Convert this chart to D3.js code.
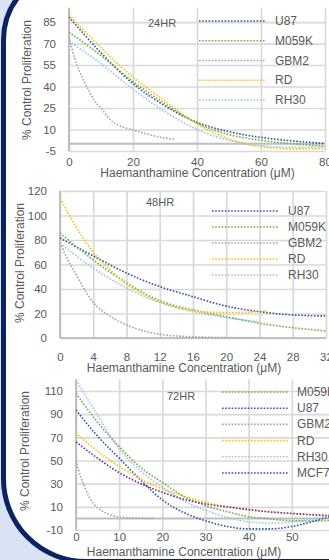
<!DOCTYPE html>
<html>
<head>
<meta charset="utf-8">
<script src="https://cdn.jsdelivr.net/npm/d3@7"></script>
<style>
  body { margin: 0; background: #dae3f3; }
  svg { display: block; font-family: "Liberation Sans", Arial, sans-serif; }
</style>
</head>
<body>
<svg id="chart" width="329" height="560"></svg>
<script>
// ---- data ----
// 24 hour panel
const x24Ticks = [0, 20, 40, 60, 80];
const y24Ticks = [-5, 10, 25, 40, 55, 70, 85];
const x24 = [0, 10, 20, 30, 40, 50, 60, 70, 80];
const u87_24 = [88.5, 63.5, 42, 26.5, 15, 8.5, 4.5, 2, 0.3];
const m059k_24 = [78, 61.5, 43.5, 28, 14.5, 6.5, 2.5, 0, -1.5];
const rd_24 = [90, 67, 46.5, 30, 14, 3.5, -2, -3.5, -3.3];
const rh30_24 = [71.5, 56, 38, 22.5, 10, 2.5, -1.3, -2.5, -2];
const gbm2X_24 = [0, 2, 4, 6, 8, 10, 13, 16, 20, 25, 30, 33];
const gbm2_24 = [75, 58, 47, 38, 30, 25, 16.5, 12.5, 9.6, 6.5, 4, 3.2];

// 48 hour panel
const x48Ticks = [0, 4, 8, 12, 16, 20, 24, 28, 32];
const y48Ticks = [0, 20, 40, 60, 80, 100, 120];
const x48 = [0, 4, 8, 12, 16, 20, 24, 28, 32];
const u87_48 = [81.6, 67, 53, 42, 33.7, 26, 21.5, 18.8, 18];
const m059k_48 = [85.7, 63.7, 45, 30.5, 22.9, 17.4, 12, 8.4, 5.7];
const rdX_48 = [0, 2, 4, 6, 8, 10, 12, 16, 20, 25];
const rd_48 = [114, 90, 70, 56, 44, 36, 29.5, 22.5, 20.7, 22];
const rh30X_48 = [0, 4, 8, 12, 16, 20, 24];
const rh30_48 = [77.5, 57, 40.8, 29, 21.5, 16.6, 13.3];
const gbm2X_48 = [0, 1, 2, 3, 4, 6, 8, 10, 12, 16, 20, 24];
const gbm2_48 = [78, 63, 51, 39, 29, 18, 10.6, 6, 3, 1, 0.3, 0];

// 72 hour panel
const x72Ticks = [0, 10, 20, 30, 40, 50, 60];
const y72Ticks = [-10, 10, 30, 50, 70, 90, 110];
const x72 = [0, 5, 10, 15, 20, 25, 30, 35, 40, 45, 50, 55, 60];
const m059k_72 = [108, 83, 62, 44, 31, 19, 11, 5.8, 1.5, -0.5, -2, -2.2, -1.5];
const u87_72 = [93.6, 71, 52, 33, 16, 5, -2, -7, -9, -9, -7, -2.5, 3];
const rd_72 = [73.7, 58, 45, 34, 25.5, 19, 14, 10, 8, 6, 4.3, 3.3, 2.7];
const rh30_72 = [119.5, 89, 60, 41, 27, 15, 7, 1, -3, -4, -3, -0.5, 3];
const mcf7_72 = [66, 52, 39.5, 30, 22.5, 16.5, 12.5, 10, 7.5, 5.5, 4.3, 3, 2.2];
const gbm2X_72 = [0, 1, 2, 3, 4, 6, 8, 10, 14, 18];
const gbm2_72 = [50, 37, 27, 19, 13, 6.5, 3, 1.2, 0.2, 0];

const colors = {
  U87: "#2f55a4", M059K: "#70ad47", GBM2: "#a5a5a5",
  RD: "#ffc000", RH30: "#9dc3e6", MCF7: "#7030a0"
};
const textColor = "#595959";

const panels = [
  {
    title: "24HR", xDomain: [0, 80], yDomain: [-5, 95], xTicks: x24Ticks, yTicks: y24Ticks,
    left: 69, right: 325, top: 7.7, bottom: 151,
    titlePos: [148, 27], xTitle: [197.5, 177], yTitle: [27, 80],
    legend: { x1: 199, x2: 266, tx: 275, y0: 21, dy: 19.75 },
    series: [
      { name: "U87", xs: x24, ys: u87_24 },
      { name: "M059K", xs: x24, ys: m059k_24 },
      { name: "GBM2", xs: gbm2X_24, ys: gbm2_24 },
      { name: "RD", xs: x24, ys: rd_24 },
      { name: "RH30", xs: x24, ys: rh30_24 }
    ]
  },
  {
    title: "48HR", xDomain: [0, 32], yDomain: [0, 120], xTicks: x48Ticks, yTicks: y48Ticks,
    left: 60, right: 326, top: 191, bottom: 338,
    titlePos: [146, 206], xTitle: [184, 372], yTitle: [20, 263],
    legend: { x1: 212, x2: 278, tx: 288, y0: 211, dy: 16 },
    series: [
      { name: "U87", xs: x48, ys: u87_48 },
      { name: "M059K", xs: x48, ys: m059k_48 },
      { name: "GBM2", xs: gbm2X_48, ys: gbm2_48 },
      { name: "RD", xs: rdX_48, ys: rd_48 },
      { name: "RH30", xs: rh30X_48, ys: rh30_48 }
    ]
  },
  {
    title: "72HR", xDomain: [0, 60], yDomain: [-10, 120], xTicks: x72Ticks, yTicks: y72Ticks,
    left: 76, right: 335, top: 379.4, bottom: 530,
    titlePos: [167, 400], xTitle: [184, 556], yTitle: [25, 451],
    legend: { x1: 222, x2: 288, tx: 297, y0: 392, dy: 16.2 },
    series: [
      { name: "M059K", xs: x72, ys: m059k_72 },
      { name: "U87", xs: x72, ys: u87_72 },
      { name: "GBM2", xs: gbm2X_72, ys: gbm2_72 },
      { name: "RD", xs: x72, ys: rd_72 },
      { name: "RH30", xs: x72, ys: rh30_72 },
      { name: "MCF7", xs: x72, ys: mcf7_72 }
    ]
  }
];

const svg = d3.select("#chart");

// backdrop: pale blue page, white card with a navy rounded edge on the left
svg.append("rect").attr("width", 329).attr("height", 560).attr("fill", "#dae3f3");
svg.append("path")
  .attr("d", "M400,-30 L73.5,-30 A70,70 0 0 0 3.5,40 L3.5,479 A82.5,82.5 0 0 0 86,561.5 L400,561.5 Z")
  .attr("fill", "#fff")
  .attr("stroke", "#0b2360")
  .attr("stroke-width", 5);

// plain hyphen for negatives, like the original
const fmt = d => String(d);

function drawPanel(p, i) {
  const x = d3.scaleLinear().domain(p.xDomain).range([p.left, p.right]);
  const y = d3.scaleLinear().domain(p.yDomain).range([p.bottom, p.top]);
  const g = svg.append("g");

  const clipId = "clip" + i;
  g.append("clipPath").attr("id", clipId)
    .append("rect")
    .attr("x", p.left).attr("y", p.top)
    .attr("width", p.right - p.left).attr("height", p.bottom - p.top);

  // gridlines
  const gridY = g.append("g")
    .attr("transform", "translate(" + p.left + ",0)")
    .call(d3.axisLeft(y).tickValues(p.yTicks).tickSize(-(p.right - p.left)).tickFormat(""));
  const gridX = g.append("g")
    .attr("transform", "translate(0," + p.bottom + ")")
    .call(d3.axisBottom(x).tickValues(p.xTicks).tickSize(p.bottom - p.top).tickFormat(""));
  gridX.selectAll(".tick line").attr("y2", -(p.bottom - p.top));
  [gridY, gridX].forEach(s => {
    s.select(".domain").remove();
    s.selectAll(".tick line").attr("stroke", "#d9d9d9").attr("stroke-width", 1.7);
  });

  // axis lines through zero
  g.append("line")
    .attr("x1", p.left).attr("x2", p.right)
    .attr("y1", y(0)).attr("y2", y(0))
    .attr("stroke", "#bfbfbf").attr("stroke-width", 2);
  g.append("line")
    .attr("x1", x(0)).attr("x2", x(0))
    .attr("y1", p.top).attr("y2", p.bottom)
    .attr("stroke", "#bfbfbf").attr("stroke-width", 2);

  // tick labels
  const yAx = g.append("g")
    .attr("transform", "translate(" + p.left + ",0)")
    .call(d3.axisLeft(y).tickValues(p.yTicks).tickFormat(fmt).tickSize(0).tickPadding(13));
  const xAx = g.append("g")
    .attr("transform", "translate(0," + y(0) + ")")
    .call(d3.axisBottom(x).tickValues(p.xTicks).tickFormat(fmt).tickSize(0).tickPadding(14.5));
  [yAx, xAx].forEach(s => {
    s.select(".domain").remove();
    s.selectAll("text")
      .attr("fill", textColor)
      .style("font-size", "11.5px")
      .style("font-family", "'Liberation Sans', Arial, sans-serif");
  });

  // axis titles
  g.append("text")
    .attr("x", p.xTitle[0]).attr("y", p.xTitle[1])
    .attr("text-anchor", "middle")
    .attr("fill", textColor).style("font-size", "12px")
    .text("Haemanthamine Concentration (μM)");
  g.append("text")
    .attr("transform", "translate(" + p.yTitle[0] + "," + p.yTitle[1] + ") rotate(-90)")
    .attr("text-anchor", "middle")
    .attr("dominant-baseline", "central")
    .attr("fill", textColor).style("font-size", "12px")
    .text("% Control Proliferation");

  // chart title
  g.append("text")
    .attr("x", p.titlePos[0]).attr("y", p.titlePos[1])
    .attr("fill", textColor).style("font-size", "11px")
    .text(p.title);

  // trend curves
  const line = d3.line()
    .x(d => x(d[0]))
    .y(d => y(d[1]))
    .curve(d3.curveMonotoneX);
  const curves = g.append("g").attr("clip-path", "url(#" + clipId + ")");
  p.series.forEach(s => {
    curves.append("path")
      .datum(d3.zip(s.xs, s.ys))
      .attr("d", line)
      .attr("fill", "none")
      .attr("stroke", colors[s.name])
      .attr("stroke-width", 1.6)
      .attr("stroke-dasharray", "1.6,1.6");
  });

  // legend
  const leg = g.append("g");
  p.series.forEach((s, k) => {
    const ly = p.legend.y0 + k * p.legend.dy;
    leg.append("line")
      .attr("x1", p.legend.x1).attr("x2", p.legend.x2)
      .attr("y1", ly).attr("y2", ly)
      .attr("stroke", colors[s.name])
      .attr("stroke-width", 1.6)
      .attr("stroke-dasharray", "1.6,1.6");
    leg.append("text")
      .attr("x", p.legend.tx).attr("y", ly)
      .attr("dominant-baseline", "central")
      .attr("fill", textColor).style("font-size", "12px")
      .text(s.name);
  });
}

panels.forEach(drawPanel);
</script>
</body>
</html>
